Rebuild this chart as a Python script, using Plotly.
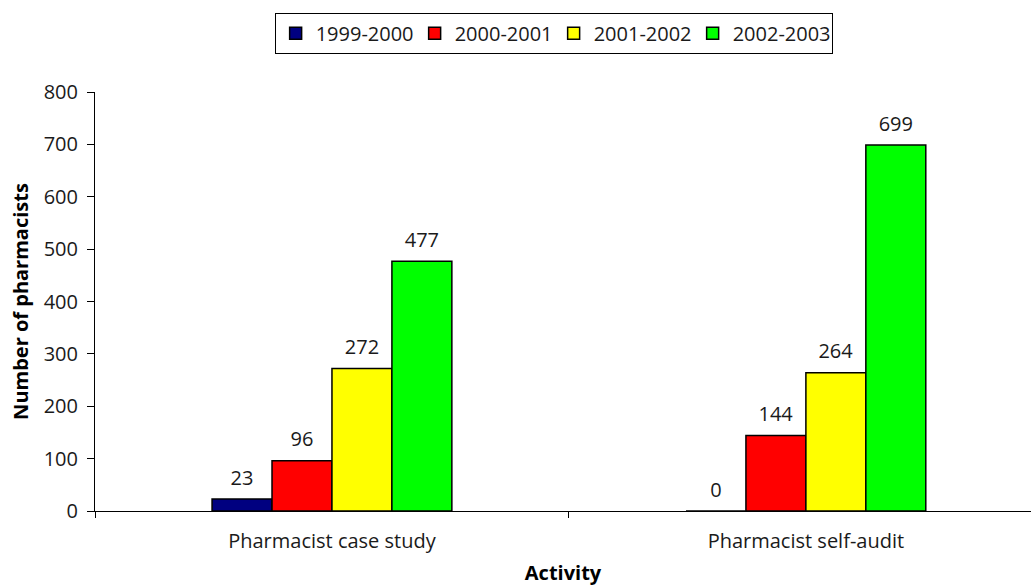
import plotly.graph_objects as go

activities = ["Pharmacist case study", "Pharmacist self-audit"]
years = ["1999-2000", "2000-2001", "2001-2002", "2002-2003"]
counts_1999_2000 = [23, 0]
counts_2000_2001 = [96, 144]
counts_2001_2002 = [272, 264]
counts_2002_2003 = [477, 699]
bar_colors = ["#000080", "#FF0000", "#FFFF00", "#00FF00"]
y_ticks = [0, 100, 200, 300, 400, 500, 600, 700, 800]

series = [counts_1999_2000, counts_2000_2001, counts_2001_2002, counts_2002_2003]
FONT = "Open Sans, DejaVu Sans, sans-serif"
TEXT = "#1a1a1a"
FS = 20
# lift the value labels a little above the bar tops (in data units)
LABEL_LIFT = 10

fig = go.Figure()
for name, vals, col in zip(years, series, bar_colors):
    fig.add_trace(go.Bar(
        x=activities, y=vals, name=name, offsetgroup=name,
        marker=dict(color=col, line=dict(color="#000000", width=1.5)),
        hoverinfo="x+y+name",
    ))
    # transparent twin carrying the value labels
    fig.add_trace(go.Bar(
        x=activities, y=vals, base=LABEL_LIFT, offsetgroup=name,
        marker=dict(color="rgba(0,0,0,0)", line=dict(width=0)),
        text=[str(v) for v in vals], textposition="outside",
        textfont=dict(family=FONT, size=FS, color=TEXT),
        cliponaxis=False, showlegend=False, hoverinfo="skip",
    ))

fig.update_layout(
    width=1031, height=588,
    margin=dict(l=95, r=0, t=92, b=77),
    paper_bgcolor="white", plot_bgcolor="white",
    barmode="group", bargap=0.494, bargroupgap=0,
    font=dict(family=FONT, size=FS, color=TEXT),
    showlegend=True,
    legend=dict(
        orientation="h", x=0.490, xanchor="center", y=1.189, yanchor="top",
        bordercolor="#000000", borderwidth=1, bgcolor="white",
        font=dict(family=FONT, size=FS, color=TEXT),
        entrywidth=94, entrywidthmode="pixels",
        itemwidth=30, tracegroupgap=0,
    ),
    xaxis=dict(
        range=[-0.5, 1.475], tickson="boundaries",
        showline=True, linecolor="#000000", linewidth=1,
        ticks="outside", ticklen=6, tickcolor="#000000",
        showgrid=False, zeroline=False,
        tickfont=dict(family=FONT, size=FS, color=TEXT),
        ticklabelstandoff=12,
        title=dict(text="<b>Activity</b>", standoff=12,
                   font=dict(family=FONT, size=FS, color="#000000")),
    ),
    yaxis=dict(
        range=[0, 800], tickvals=y_ticks,
        showline=True, linecolor="#000000", linewidth=1,
        ticks="outside", ticklen=7, tickcolor="#000000",
        showgrid=False, zeroline=False,
        tickfont=dict(family=FONT, size=FS, color=TEXT),
        ticklabelstandoff=5,
        title=dict(text="<b>Number of pharmacists</b>", standoff=9,
                   font=dict(family=FONT, size=FS, color="#000000")),
    ),
)

fig.write_html("out.html")
